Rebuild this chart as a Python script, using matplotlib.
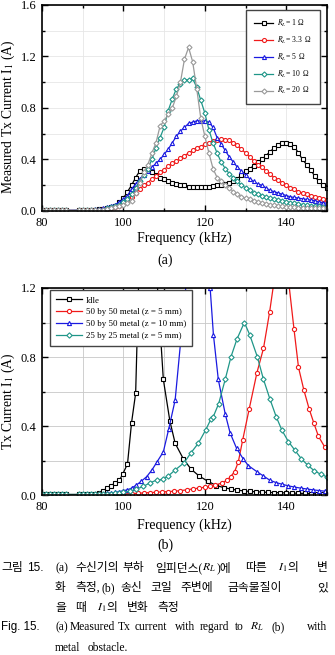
import numpy as np
import matplotlib
matplotlib.use('Agg')
import matplotlib.pyplot as plt
from matplotlib.ticker import MultipleLocator

plt.rcParams['font.family'] = ['Liberation Serif', 'DejaVu Serif']
plt.rcParams['mathtext.fontset'] = 'stix'

# (a) Tx current vs frequency for different load resistances
freq_a = np.r_[80:87, 89:151]
i_r1 = [0.004, 0.004, 0.004, 0.004, 0.004, 0.004, 0.004,
        0.004, 0.005, 0.006, 0.008, 0.01, 0.012,
        0.015, 0.02, 0.03, 0.04, 0.07, 0.1, 0.15, 0.2, 0.26, 0.31,
        0.33, 0.32, 0.3, 0.28, 0.26, 0.25, 0.23, 0.22, 0.21, 0.2,
        0.2, 0.19, 0.19, 0.19, 0.19, 0.19, 0.19, 0.195, 0.2, 0.2,
        0.21, 0.22, 0.23, 0.25, 0.28, 0.31, 0.33, 0.35, 0.38, 0.4,
        0.43, 0.46, 0.49, 0.51, 0.53, 0.53, 0.52, 0.5, 0.45, 0.4,
        0.36, 0.32, 0.27, 0.23, 0.2, 0.18]
i_r33 = [0.004, 0.004, 0.004, 0.004, 0.004, 0.004, 0.004,
         0.004, 0.004, 0.005, 0.006, 0.008, 0.01,
         0.012, 0.015, 0.02, 0.03, 0.04, 0.06, 0.08, 0.11, 0.14, 0.17,
         0.2, 0.22, 0.25, 0.27, 0.3, 0.32, 0.35, 0.37, 0.39, 0.41,
         0.43, 0.45, 0.47, 0.49, 0.5, 0.52, 0.53, 0.54, 0.555, 0.56,
         0.555, 0.55, 0.53, 0.51, 0.48, 0.45, 0.42, 0.39, 0.36, 0.34,
         0.31, 0.29, 0.26, 0.24, 0.22, 0.2, 0.18, 0.17, 0.15, 0.14,
         0.13, 0.12, 0.11, 0.1, 0.09, 0.085]
i_r5 = [0.004, 0.004, 0.004, 0.004, 0.004, 0.004, 0.004,
        0.005, 0.006, 0.008, 0.01, 0.012, 0.015,
        0.02, 0.03, 0.04, 0.05, 0.07, 0.09, 0.12, 0.17, 0.21, 0.25,
        0.28, 0.31, 0.34, 0.37, 0.4, 0.44, 0.48, 0.53, 0.58, 0.62,
        0.65, 0.68, 0.69, 0.7, 0.7, 0.7, 0.69, 0.65, 0.57, 0.52,
        0.47, 0.42, 0.38, 0.34, 0.31, 0.28, 0.25, 0.23, 0.21, 0.2,
        0.18, 0.16, 0.15, 0.14, 0.13, 0.12, 0.11, 0.105, 0.1, 0.095,
        0.09, 0.085, 0.08, 0.07, 0.065, 0.06]
i_r10 = [0.004, 0.004, 0.004, 0.004, 0.004, 0.004, 0.004,
         0.004, 0.005, 0.006, 0.007, 0.008, 0.009,
         0.01, 0.02, 0.03, 0.04, 0.05, 0.07, 0.09, 0.13, 0.18, 0.23,
         0.28, 0.33, 0.4, 0.49, 0.57, 0.65, 0.78, 0.87, 0.95, 0.99,
         1.02, 1.02, 1.03, 0.96, 0.86, 0.76, 0.63, 0.53, 0.45, 0.38,
         0.33, 0.29, 0.26, 0.23, 0.2, 0.18, 0.16, 0.14, 0.13, 0.12,
         0.11, 0.1, 0.09, 0.085, 0.08, 0.07, 0.065, 0.06, 0.055, 0.05,
         0.045, 0.04, 0.038, 0.035, 0.032, 0.03]
i_r20 = [0.004, 0.004, 0.004, 0.004, 0.004, 0.004, 0.004,
         0.004, 0.004, 0.005, 0.006, 0.007, 0.008,
         0.01, 0.015, 0.02, 0.03, 0.04, 0.05, 0.06, 0.08, 0.14, 0.22,
         0.3, 0.36, 0.45, 0.53, 0.66, 0.7, 0.75, 0.8, 0.89, 1.0,
         1.18, 1.27, 1.16, 0.95, 0.72, 0.58, 0.45, 0.33, 0.26, 0.23,
         0.2, 0.18, 0.15, 0.13, 0.11, 0.1, 0.09, 0.08, 0.07, 0.06,
         0.055, 0.05, 0.045, 0.04, 0.035, 0.03, 0.03, 0.028, 0.026, 0.025,
         0.024, 0.022, 0.021, 0.02, 0.02, 0.02]
labels_a = [r'$R_L$= 1 Ω', r'$R_L$= 3.3  Ω', r'$R_L$= 5  Ω', r'$R_L$= 10  Ω', r'$R_L$= 20  Ω']

# (b) Tx current with a metal obstacle near the coil
freq_idle = [80, 81, 82, 83, 84, 85, 86, 89, 90, 91, 92, 93,
             94, 95, 96, 97, 98, 99, 99.8, 101, 102, 103, 104.5, 106.5,
             109.8, 111.4, 112.7, 114.7, 116.6, 118.6, 120.7, 122.8,
             124.8, 126.5, 128, 129.5, 131, 132.5, 134, 135.5, 137, 138.5,
             140, 141.5, 143, 144.5, 146, 147.5, 149, 150]
i_idle = [0.003, 0.003, 0.003, 0.003, 0.003, 0.003, 0.003, 0.003, 0.004, 0.005, 0.006, 0.008,
          0.012, 0.025, 0.04, 0.055, 0.07, 0.085, 0.12, 0.18, 0.42, 0.59, 1.9, 1.9,
          0.67, 0.43, 0.3, 0.21, 0.15, 0.11, 0.08, 0.055,
          0.042, 0.034, 0.028, 0.024, 0.021, 0.019, 0.017, 0.015, 0.014, 0.013,
          0.012, 0.011, 0.01, 0.009, 0.008, 0.007, 0.006, 0.006]
freq_m5 = [80, 81, 82, 83, 84, 85, 86, 89, 90, 91, 92, 93,
           94, 96, 98, 100, 102, 103.5, 105, 106.5, 108, 109.5,
           111, 112.5, 114, 115.5, 117, 118.5, 120, 121.3, 122.6, 124.2,
           125.4, 126.3, 127.3, 128.2, 129.3, 130.9, 132.8, 134.4, 135.9, 139,
           141.9, 143, 144.3, 145.6, 146.8, 147.9, 149.4]
i_m5 = [0.002, 0.002, 0.002, 0.002, 0.002, 0.002, 0.002, 0.002, 0.002, 0.002, 0.002, 0.002,
        0.003, 0.004, 0.005, 0.006, 0.008, 0.01, 0.012, 0.014, 0.016, 0.018,
        0.02, 0.022, 0.025, 0.03, 0.035, 0.04, 0.045, 0.05, 0.058, 0.07,
        0.085, 0.106, 0.135, 0.19, 0.32, 0.5, 0.71, 0.85, 1.06, 1.57,
        0.96, 0.74, 0.61, 0.5, 0.415, 0.34, 0.28]
freq_m10 = [80, 81, 82, 83, 84, 85, 86, 89, 90, 91, 92, 93,
            94, 95, 96, 97, 98, 99, 100, 101, 102,
            103.2, 104.4, 105.7, 107, 108.2, 109.8, 111.1, 112.7, 116.5, 119,
            121.3, 122.1, 123.3, 125, 126.2, 127.8, 129.4, 130.7, 132.8, 134.4,
            136, 137.5, 139, 140.5, 142, 143.5, 145, 146.5, 148, 149.5]
i_m10 = [0.002, 0.002, 0.002, 0.002, 0.002, 0.002, 0.002, 0.002, 0.003, 0.003, 0.004, 0.005,
         0.006, 0.008, 0.01, 0.012, 0.015, 0.02, 0.025, 0.03, 0.04,
         0.058, 0.08, 0.106, 0.145, 0.19, 0.25, 0.38, 0.55, 1.5, 2.0,
         1.2, 0.93, 0.67, 0.47, 0.36, 0.27, 0.21, 0.17, 0.135, 0.11,
         0.085, 0.072, 0.062, 0.053, 0.046, 0.04, 0.035, 0.03, 0.026, 0.022]
freq_s5 = [80, 81, 82, 83, 84, 85, 86, 89, 90, 91, 92, 93,
           94, 95, 96, 97, 98, 99, 100, 101.5, 103, 104.9, 106.5, 108.2,
           109.6, 111, 112.7, 114.9, 116.6, 118.4, 120.2, 121.5, 122, 123.4,
           125, 126.4, 127.9, 129.7, 131, 132.9, 134.4, 136, 137.5, 138.9,
           140.5, 142.1, 143.7, 145.3, 146.9, 148.5, 150]
i_s5 = [0.003, 0.003, 0.003, 0.003, 0.003, 0.003, 0.003, 0.003, 0.003, 0.004, 0.004, 0.004,
        0.005, 0.006, 0.007, 0.008, 0.01, 0.012, 0.015, 0.022, 0.032, 0.05, 0.07, 0.087,
        0.09, 0.11, 0.145, 0.187, 0.245, 0.3, 0.377, 0.44, 0.45, 0.53,
        0.67, 0.8, 0.905, 1.0, 0.93, 0.8, 0.67, 0.555, 0.455, 0.377,
        0.31, 0.26, 0.21, 0.172, 0.14, 0.12, 0.105]
labels_b = ['Idle', '50 by 50 metal (z = 5 mm)', '50 by 50 metal (z = 10 mm)',
            '25 by 25 metal (z = 5 mm)']

colors = ['black', '#f01a1a', '#1a1ae0', '#1f9688', '#9a9a9a']
markers_a = ['s', 'o', '^', 'D', 'D']

W, H = 335, 655
fig = plt.figure(figsize=(W / 100, H / 100), dpi=100)
ax1 = fig.add_axes([42 / W, 1 - 211 / H, 285 / W, 206 / H])
ax2 = fig.add_axes([42 / W, 1 - 495 / H, 285 / W, 207 / H])


def style(ax, ymax, gridcolor):
    ax.set_xlim(80, 150)
    ax.set_ylim(0, ymax)
    ax.xaxis.set_major_locator(MultipleLocator(20))
    ax.xaxis.set_minor_locator(MultipleLocator(10))
    ax.yaxis.set_major_locator(MultipleLocator(0.4))
    ax.yaxis.set_minor_locator(MultipleLocator(0.2))
    ax.yaxis.set_major_formatter(lambda v, p: f'{v:.1f}')
    ax.tick_params(which='both', direction='in', top=True, right=True, width=1)
    ax.tick_params(which='major', length=4, labelsize=9, pad=4)
    ax.tick_params(which='minor', length=2.5)
    ax.grid(True, which='both', color=gridcolor, lw=0.6)
    ax.set_axisbelow(True)
    for s in ax.spines.values():
        s.set_linewidth(1.2)


series_a = [i_r1, i_r33, i_r5, i_r10, i_r20]
for y, c, m, lab in zip(series_a, colors, markers_a, labels_a):
    ms = 2.6 if m == 'D' else 2.9
    ax1.plot(freq_a, y, color=c, lw=0.9, marker=m, ms=ms, mfc='white', mec=c, mew=0.8,
             label=lab)
style(ax1, 1.6, '#e6e6e6')
ax1.set_xlabel('Frequency (kHz)', fontsize=10)
ax1.set_ylabel('Measured Tx Current I$_1$ (A)', fontsize=9.8)
ax1.xaxis.set_label_coords(0.5, -0.1)
ax1.yaxis.set_label_coords(-0.086, 0.456)
ax1.legend(loc='upper right', bbox_to_anchor=(0.975, 0.976), fontsize=5.5, frameon=True,
           fancybox=False, edgecolor='#444444', framealpha=1, handlelength=2.6,
           labelspacing=0.75, borderpad=1.0, handletextpad=0.5, borderaxespad=0)

series_b = [(freq_idle, i_idle), (freq_m5, i_m5), (freq_m10, i_m10), (freq_s5, i_s5)]
markers_b = ['s', 'o', '^', 'D']
for (f, y), c, m, lab in zip(series_b, colors, markers_b, labels_b):
    ms = 2.7 if m == 'D' else 3.0
    ax2.plot(f, y, color=c, lw=0.9, marker=m, ms=ms, mfc='white', mec=c, mew=0.8, label=lab)
style(ax2, 1.2, '#c8c8c8')
ax2.set_xlabel('Frequency (kHz)', fontsize=10)
ax2.set_ylabel('Tx Current I$_1$ (A)', fontsize=9.8)
ax2.xaxis.set_label_coords(0.5, -0.112)
ax2.yaxis.set_label_coords(-0.086, 0.454)
ax2.legend(loc='upper left', bbox_to_anchor=(0.028, 0.99), fontsize=6.4, frameon=True,
           fancybox=False, edgecolor='#444444', framealpha=1, handlelength=2.9,
           labelspacing=0.4, borderpad=0.7, handletextpad=0.4, borderaxespad=0)

fig.text(165 / W, 1 - 260 / H, '(a)', fontsize=10, ha='center', va='center')
fig.text(165 / W, 1 - 545 / H, '(b)', fontsize=10, ha='center', va='center')

# caption, word by word (justified in the original)
KR = ['Liberation Serif', 'Noto Sans CJK KR']
SERIF = ['Liberation Serif']
SANS = ['Liberation Sans']
renderer = fig.canvas.get_renderer()


def run(x, y, parts, size):
    for s, fam in parts:
        t = fig.text(x / W, 1 - y / H, s, fontsize=size, family=fam, va='center')
        x += t.get_window_extent(renderer).width


cap_kr = [
    (568, [(1, [('그림', ['Noto Sans CJK KR'])]), (27, [('15.', SANS)]), (55, [('(a)', SERIF)]),
           (75, [('수신기의', KR)]), (122, [('부하', KR)]),
           (155, [('임피던스(', KR), ('$R_L$', SERIF), (')에', KR)]),
           (245, [('따른', KR)]), (278, [('$I_1$', SERIF), ('의', KR)]), (317, [('변', KR)])]),
    (588, [(55, [('화', KR)]), (75, [('측정,', KR)]), (102, [('(b)', SERIF)]), (120, [('송신', KR)]),
           (150, [('코일', KR)]), (180, [('주변에', KR)]), (227, [('금속물질이', KR)]),
           (317, [('있', KR)])]),
    (608, [(55, [('을', KR)]), (75, [('때', KR)]), (97, [('$I_1$', SERIF), ('의', KR)]),
           (127, [('변화', KR)]), (157, [('측정', KR)])]),
]
for y, words in cap_kr:
    for x, parts in words:
        run(x, y, parts, 8.5)

cap_en = [
    (627, [(1, [('Fig. 15.', SANS)]), (55, [('(a)', SERIF)]), (70, [('Measured', SERIF)]),
           (118, [('Tx', SERIF)]), (135, [('current', SERIF)]), (175, [('with', SERIF)]),
           (200, [('regard', SERIF)]), (235, [('to', SERIF)]), (250, [('$R_L$', SERIF)]),
           (272, [('(b)', SERIF)]), (307, [('with', SERIF)])]),
    (648, [(55, [('metal', SERIF)]), (88, [('obstacle.', SERIF)])]),
]
for y, words in cap_en:
    for x, parts in words:
        run(x, y, parts, 8.3)

plt.savefig('out.png', dpi=100)
